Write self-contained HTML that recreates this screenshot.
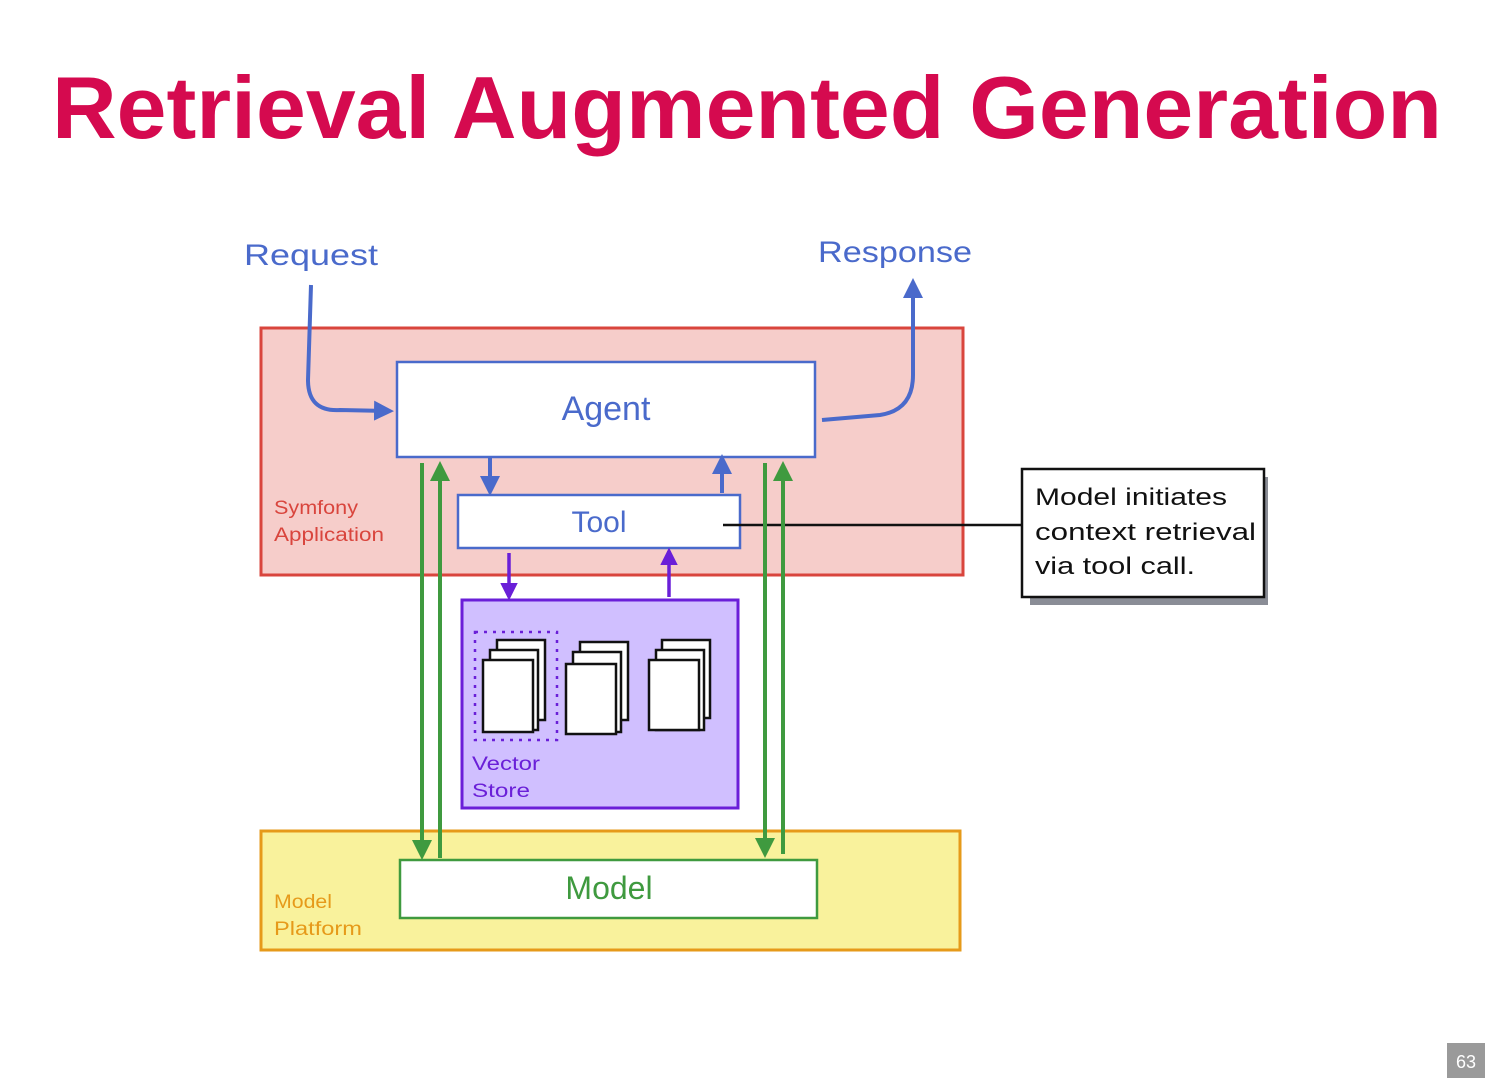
<!DOCTYPE html>
<html><head><meta charset="utf-8"><style>
html,body{margin:0;padding:0;background:#fff;}
svg{display:block;}
text{font-family:"Liberation Sans","DejaVu Sans",sans-serif;}
</style></head><body>
<svg width="1498" height="1092" viewBox="0 0 1498 1092" xmlns="http://www.w3.org/2000/svg">
<defs>
<marker id="ab" viewBox="0 0 10 10" refX="8" refY="5" markerWidth="5" markerHeight="5" orient="auto-start-reverse"><path d="M0,0 L10,5 L0,10 z" fill="#4a6acb"/></marker>
<marker id="ag" viewBox="0 0 10 10" refX="8" refY="5" markerWidth="5" markerHeight="5" orient="auto-start-reverse"><path d="M0,0 L10,5 L0,10 z" fill="#3f9a3f"/></marker>
<marker id="ap" viewBox="0 0 10 10" refX="8" refY="5" markerWidth="5" markerHeight="5" orient="auto-start-reverse"><path d="M0,0 L10,5 L0,10 z" fill="#6a1fd8"/></marker>
</defs>
<text x="52" y="138" font-size="88" font-weight="bold" fill="#d50a4f" textLength="1390" lengthAdjust="spacingAndGlyphs">Retrieval Augmented Generation</text>

<text x="244" y="265" font-size="30" fill="#4a6acb" textLength="134" lengthAdjust="spacingAndGlyphs">Request</text>
<text x="818" y="262" font-size="30" fill="#4a6acb" textLength="154" lengthAdjust="spacingAndGlyphs">Response</text>

<rect x="261" y="328" width="702" height="247" fill="#f6cdca" stroke="#d9453d" stroke-width="3"/>
<text x="274" y="514" font-size="19" fill="#d9453d" textLength="84" lengthAdjust="spacingAndGlyphs">Symfony</text>
<text x="274" y="541" font-size="19" fill="#d9453d" textLength="110" lengthAdjust="spacingAndGlyphs">Application</text>

<rect x="261" y="831" width="699" height="119" fill="#f9f29c" stroke="#e69a1a" stroke-width="3"/>
<text x="274" y="908" font-size="19" fill="#e69a1a" textLength="58" lengthAdjust="spacingAndGlyphs">Model</text>
<text x="274" y="935" font-size="19" fill="#e69a1a" textLength="88" lengthAdjust="spacingAndGlyphs">Platform</text>

<rect x="397" y="362" width="418" height="95" fill="#fff" stroke="#4a6acb" stroke-width="2.5"/>
<text x="606" y="420" font-size="34" fill="#4a6acb" text-anchor="middle">Agent</text>

<rect x="458" y="495" width="282" height="53" fill="#fff" stroke="#4a6acb" stroke-width="2.5"/>
<text x="599" y="532" font-size="30" fill="#4a6acb" text-anchor="middle">Tool</text>

<rect x="462" y="600" width="276" height="208" fill="#d0bfff" stroke="#6a1fd8" stroke-width="3"/>
<rect x="475" y="632" width="82" height="108" fill="none" stroke="#6a1fd8" stroke-width="2.5" stroke-dasharray="3,6"/>
<g stroke="#111" stroke-width="2.5" fill="#fff">
<rect x="497" y="640" width="48" height="80"/><rect x="490" y="650" width="48" height="80"/><rect x="483" y="660" width="50" height="72"/>
<rect x="580" y="642" width="48" height="78"/><rect x="573" y="652" width="48" height="80"/><rect x="566" y="664" width="50" height="70"/>
<rect x="662" y="640" width="48" height="78"/><rect x="656" y="650" width="48" height="80"/><rect x="649" y="660" width="50" height="70"/>
</g>
<text x="472" y="770" font-size="19" fill="#6a1fd8" textLength="68" lengthAdjust="spacingAndGlyphs">Vector</text>
<text x="472" y="797" font-size="19" fill="#6a1fd8" textLength="58" lengthAdjust="spacingAndGlyphs">Store</text>

<rect x="400" y="860" width="417" height="58" fill="#fff" stroke="#3f9a3f" stroke-width="2.5"/>
<text x="609" y="899" font-size="32" fill="#3f9a3f" text-anchor="middle">Model</text>

<rect x="1030" y="477" width="238" height="128" fill="#8a8d96"/>
<rect x="1022" y="469" width="242" height="128" fill="#fff" stroke="#111" stroke-width="2.5"/>
<text x="1035" y="505" font-size="24" fill="#111" textLength="192" lengthAdjust="spacingAndGlyphs">Model initiates</text>
<text x="1035" y="540" font-size="24" fill="#111" textLength="221" lengthAdjust="spacingAndGlyphs">context retrieval</text>
<text x="1035" y="574" font-size="24" fill="#111" textLength="160" lengthAdjust="spacingAndGlyphs">via tool call.</text>
<line x1="723" y1="525" x2="1022" y2="525" stroke="#111" stroke-width="2.5"/>

<g fill="none" stroke="#4a6acb" stroke-width="4">
<path d="M311 285 L308 380 Q308 412 340 410 L390 411" marker-end="url(#ab)"/>
<path d="M822 420 L880 415 Q913 410 913 375 L913 282" marker-end="url(#ab)"/>
<path d="M490 458 L490 492" marker-end="url(#ab)"/>
<path d="M722 493 L722 458" marker-end="url(#ab)"/>
</g>
<g fill="none" stroke="#6a1fd8" stroke-width="3.5">
<path d="M509 553 L509 597" marker-end="url(#ap)"/>
<path d="M669 597 L669 551" marker-end="url(#ap)"/>
</g>
<g fill="none" stroke="#3f9a3f" stroke-width="4">
<path d="M422 463 L422 856" marker-end="url(#ag)"/>
<path d="M440 858 L440 465" marker-end="url(#ag)"/>
<path d="M765 463 L765 854" marker-end="url(#ag)"/>
<path d="M783 854 L783 465" marker-end="url(#ag)"/>
</g>

<rect x="1447" y="1043" width="38" height="35" fill="#9a9a9a"/>
<text x="1466" y="1068" font-size="18" fill="#fff" text-anchor="middle">63</text>
</svg>
</body></html>
